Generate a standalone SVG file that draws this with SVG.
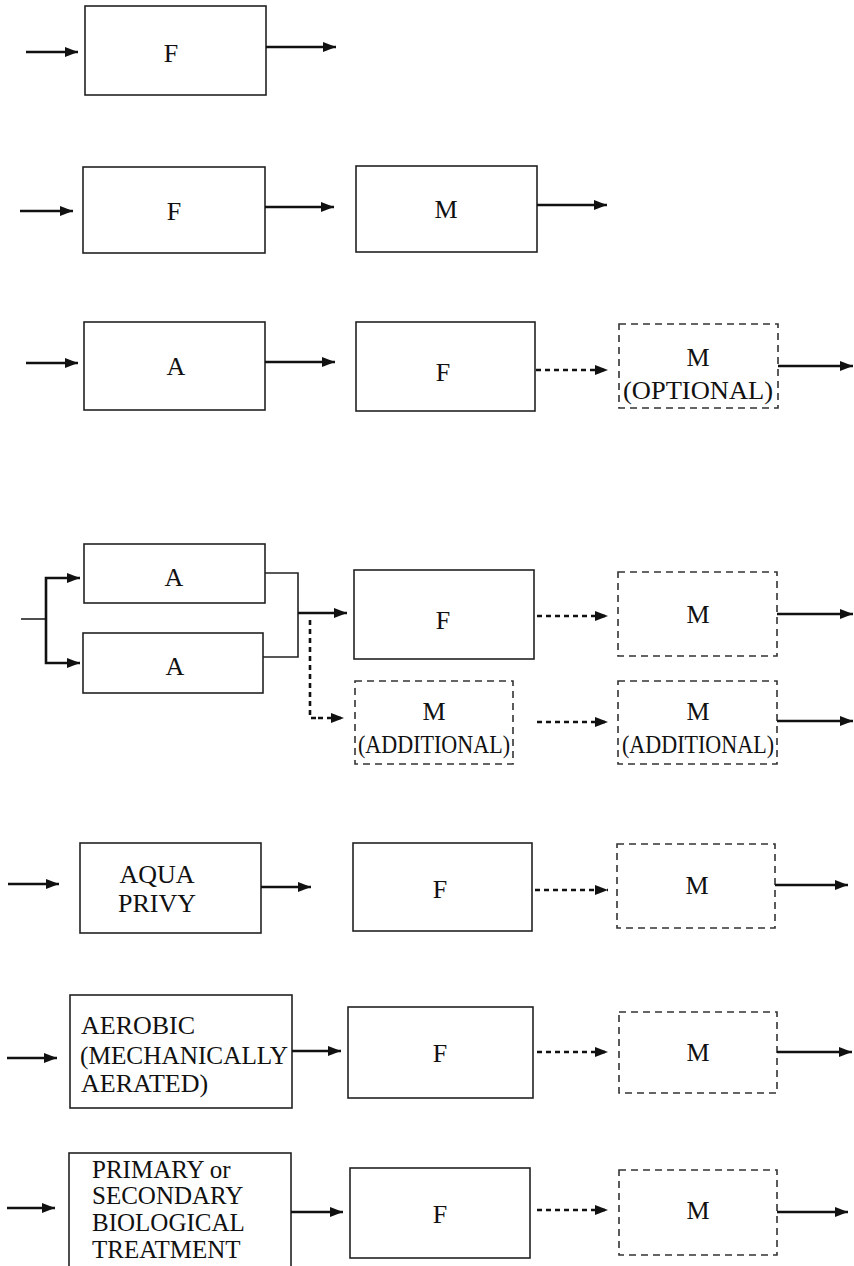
<svg xmlns="http://www.w3.org/2000/svg" width="854" height="1266" viewBox="0 0 854 1266">
  <defs>
    <marker id="head" viewBox="0 0 13 10" refX="13" refY="5" markerWidth="13" markerHeight="10" markerUnits="userSpaceOnUse" orient="auto">
      <path d="M0,0 L13,5 L0,10 Z" fill="#111"/>
    </marker>
    <style>
      .box { fill: #fff; stroke: #222; stroke-width: 1.6; }
      .opt { fill: #fff; stroke: #333; stroke-width: 1.6; stroke-dasharray: 7 5; }
      .arr { fill: none; stroke: #111; stroke-width: 2.6; marker-end: url(#head); }
      .thin { fill: none; stroke: #222; stroke-width: 1.6; }
      .dash { fill: none; stroke: #111; stroke-width: 2.6; stroke-dasharray: 5 4; marker-end: url(#head); }
      .dline { fill: none; stroke: #111; stroke-width: 2.6; stroke-dasharray: 5 4; }
      text { font-family: "Liberation Serif", "Times New Roman", serif; font-size: 26px; fill: #111; }
      .c { text-anchor: middle; }
      .tight { font-size: 25px; }
    </style>
  </defs>
  <rect width="854" height="1266" fill="#fff"/>

  <!-- Row 1 -->
  <g id="r1-f"><rect class="box" x="85" y="6" width="181" height="89"/><text class="c" x="171" y="62">F</text></g>

  <!-- Row 2 -->
  <g id="r2-f"><rect class="box" x="83" y="167" width="182" height="86"/><text class="c" x="174" y="220">F</text></g>
  <g id="r2-m"><rect class="box" x="356" y="166" width="181" height="86"/><text class="c" x="446" y="218">M</text></g>

  <!-- Row 3 -->
  <g id="r3-a"><rect class="box" x="84" y="322" width="181" height="88"/><text class="c" x="176" y="375">A</text></g>
  <g id="r3-f"><rect class="box" x="356" y="322" width="179" height="89"/><text class="c" x="443" y="381">F</text></g>
  <g id="r3-m"><rect class="opt" x="619" y="324" width="159" height="84"/><text class="c" x="698" y="366">M</text><text class="c" x="698" y="399" textLength="150" lengthAdjust="spacingAndGlyphs">(OPTIONAL)</text></g>

  <!-- Row 4 -->
  <g id="r4-a1"><rect class="box" x="84" y="544" width="181" height="59"/><text class="c" x="174" y="586">A</text></g>
  <g id="r4-a2"><rect class="box" x="83" y="633" width="180" height="60"/><text class="c" x="175" y="675">A</text></g>
  <g id="r4-f"><rect class="box" x="354" y="570" width="180" height="89"/><text class="c" x="443" y="629">F</text></g>
  <g id="r4-m"><rect class="opt" x="618" y="572" width="159" height="84"/><text class="c" x="698" y="623">M</text></g>
  <g id="r4-madd1"><rect class="opt" x="355" y="681" width="158" height="83"/><text class="c" x="434" y="720">M</text><text class="c" x="434" y="753" textLength="152" lengthAdjust="spacingAndGlyphs">(ADDITIONAL)</text></g>
  <g id="r4-madd2"><rect class="opt" x="618" y="681" width="159" height="83"/><text class="c" x="698" y="720">M</text><text class="c" x="698" y="753" textLength="152" lengthAdjust="spacingAndGlyphs">(ADDITIONAL)</text></g>

  <!-- Row 5 -->
  <g id="r5-aqua"><rect class="box" x="80" y="843" width="181" height="90"/><text class="c" x="157" y="883">AQUA</text><text class="c" x="157" y="912">PRIVY</text></g>
  <g id="r5-f"><rect class="box" x="353" y="843" width="179" height="88"/><text class="c" x="440" y="898">F</text></g>
  <g id="r5-m"><rect class="opt" x="617" y="844" width="158" height="84"/><text class="c" x="697" y="894">M</text></g>

  <!-- Row 6 -->
  <g id="r6-aerobic"><rect class="box" x="70" y="995" width="222" height="113"/>
    <text x="81" y="1034">AEROBIC</text><text x="80" y="1064" textLength="208" lengthAdjust="spacingAndGlyphs">(MECHANICALLY</text><text x="81" y="1092">AERATED)</text></g>
  <g id="r6-f"><rect class="box" x="348" y="1007" width="185" height="91"/><text class="c" x="440" y="1062">F</text></g>
  <g id="r6-m"><rect class="opt" x="619" y="1012" width="158" height="81"/><text class="c" x="698" y="1061">M</text></g>

  <!-- Row 7 -->
  <g id="r7-primary"><rect class="box" x="69" y="1153" width="222" height="120"/>
    <text class="tight" x="92" y="1178">PRIMARY or</text><text class="tight" x="92" y="1204">SECONDARY</text><text class="tight" x="92" y="1231">BIOLOGICAL</text><text class="tight" x="92" y="1258">TREATMENT</text></g>
  <g id="r7-f"><rect class="box" x="350" y="1168" width="180" height="90"/><text class="c" x="440" y="1223">F</text></g>
  <g id="r7-m"><rect class="opt" x="619" y="1170" width="158" height="85"/><text class="c" x="698" y="1219">M</text></g>

  <g id="connectors">
    <!-- row 1 -->
    <line class="arr" x1="26" y1="52" x2="78" y2="52"/>
    <line class="arr" x1="266" y1="47" x2="336" y2="47"/>
    <!-- row 2 -->
    <line class="arr" x1="20" y1="211" x2="73" y2="211"/>
    <line class="arr" x1="265" y1="207" x2="334" y2="207"/>
    <line class="arr" x1="537" y1="205" x2="607" y2="205"/>
    <!-- row 3 -->
    <line class="arr" x1="26" y1="363" x2="78" y2="363"/>
    <line class="arr" x1="265" y1="362" x2="335" y2="362"/>
    <line class="dash" x1="536" y1="370" x2="608" y2="370"/>
    <line class="arr" x1="778" y1="366" x2="853" y2="366"/>
    <!-- row 4: split / merge -->
    <polyline class="thin" points="21,619 46,619"/>
    <polyline class="arr" points="46,619 46,578 80,578"/>
    <polyline class="arr" points="46,619 46,663 80,663"/>
    <polyline class="thin" points="265,573 298,573 298,657 263,657"/>
    <line class="arr" x1="298" y1="613" x2="347" y2="613"/>
    <polyline class="dline" points="310,620 310,718 320,718"/>
    <line class="dash" x1="318" y1="718" x2="344" y2="718"/>
    <line class="dash" x1="537" y1="616" x2="608" y2="616"/>
    <line class="arr" x1="777" y1="614" x2="853" y2="614"/>
    <line class="dash" x1="537" y1="722" x2="608" y2="722"/>
    <line class="arr" x1="777" y1="721" x2="853" y2="721"/>
    <!-- row 5 -->
    <line class="arr" x1="8" y1="884" x2="59" y2="884"/>
    <line class="arr" x1="261" y1="887" x2="311" y2="887"/>
    <line class="dash" x1="535" y1="890" x2="608" y2="890"/>
    <line class="arr" x1="775" y1="885" x2="848" y2="885"/>
    <!-- row 6 -->
    <line class="arr" x1="7" y1="1058" x2="57" y2="1058"/>
    <line class="arr" x1="292" y1="1051" x2="341" y2="1051"/>
    <line class="dash" x1="537" y1="1052" x2="608" y2="1052"/>
    <line class="arr" x1="777" y1="1052" x2="852" y2="1052"/>
    <!-- row 7 -->
    <line class="arr" x1="7" y1="1208" x2="55" y2="1208"/>
    <line class="arr" x1="291" y1="1212" x2="343" y2="1212"/>
    <line class="dash" x1="537" y1="1210" x2="608" y2="1210"/>
    <line class="arr" x1="777" y1="1212" x2="848" y2="1212"/>
  </g>
</svg>
